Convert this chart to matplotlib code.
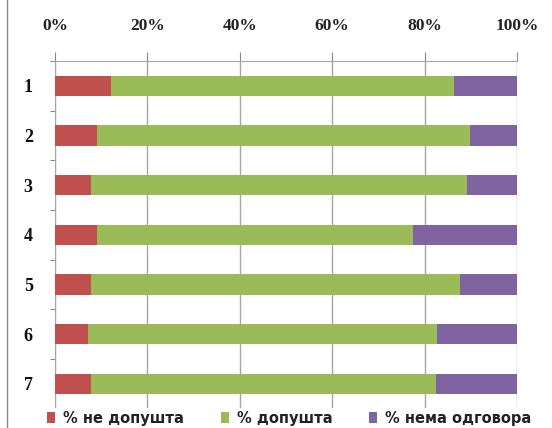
import matplotlib.pyplot as plt
import numpy as np
from matplotlib.lines import Line2D

# Data (percent of answers per question)
categories = ["1", "2", "3", "4", "5", "6", "7"]
ne_dopusta = [12.1, 9.1, 7.7, 9.1, 7.9, 7.1, 7.7]
dopusta = [74.2, 80.8, 81.4, 68.3, 79.8, 75.6, 74.7]
nema_odgovora = [13.7, 10.1, 10.9, 22.6, 12.3, 17.3, 17.6]
series_labels = ["% не допушта", "% допушта", "% нема одговора"]
colors = ["#C0504D", "#9BBB59", "#8064A2"]

fig = plt.figure(figsize=(5.52, 4.28), dpi=100)
ax = fig.add_axes([55 / 552, 1 - 408.5 / 428, 462 / 552, 347.5 / 428])

y = np.arange(len(categories))
left = np.zeros(len(categories))
for vals, lab, col in zip([ne_dopusta, dopusta, nema_odgovora], series_labels, colors):
    ax.barh(y, vals, left=left, height=0.41, color=col, label=lab, zorder=3)
    left += np.array(vals)

ax.set_xlim(0, 100)
ax.set_ylim(len(categories) - 0.5, -0.5)

# x axis on top
ax.xaxis.tick_top()
ax.set_xticks(np.arange(0, 101, 20))
ax.set_xticklabels([f"{v}%" for v in range(0, 101, 20)],
                   fontfamily="Liberation Serif", fontweight="bold", fontsize=12.5, color="#222222")
ax.tick_params(axis="x", direction="out", length=6.5, pad=13, color="#888888")
ax.grid(axis="x", color="#A6A6A6", linewidth=1, zorder=0)

# y axis: ticks between categories, labels at centres
ax.set_yticks(np.arange(-0.5, len(categories), 1))
ax.set_yticklabels([])
ax.tick_params(axis="y", which="major", length=3.6, color="#888888")
ax.set_yticks(y, minor=True)
ax.set_yticklabels(categories, minor=True, fontfamily="Liberation Serif",
                   fontweight="bold", fontsize=13, color="#111111")
ax.tick_params(axis="y", which="minor", length=0, pad=16)

for side in ["right", "bottom"]:
    ax.spines[side].set_visible(False)
for side in ["top", "left"]:
    ax.spines[side].set_color("#A6A6A6")

# left border line of the picture
fig.add_artist(Line2D([7 / 552, 7 / 552], [0, 1], color="#888888", linewidth=1))

leg = fig.legend(loc="center left", bbox_to_anchor=(45 / 552, 1 - 418 / 428), ncol=3,
                 frameon=True, edgecolor="none", facecolor="white", framealpha=1,
                 handlelength=0.55, handleheight=0.8, handletextpad=0.55, columnspacing=2.5,
                 borderpad=0.15, borderaxespad=0,
                 prop={"family": "DejaVu Sans", "weight": "bold", "size": 10.5})
for t in leg.get_texts():
    t.set_color("#222222")

fig.savefig("out.png", dpi=100)
